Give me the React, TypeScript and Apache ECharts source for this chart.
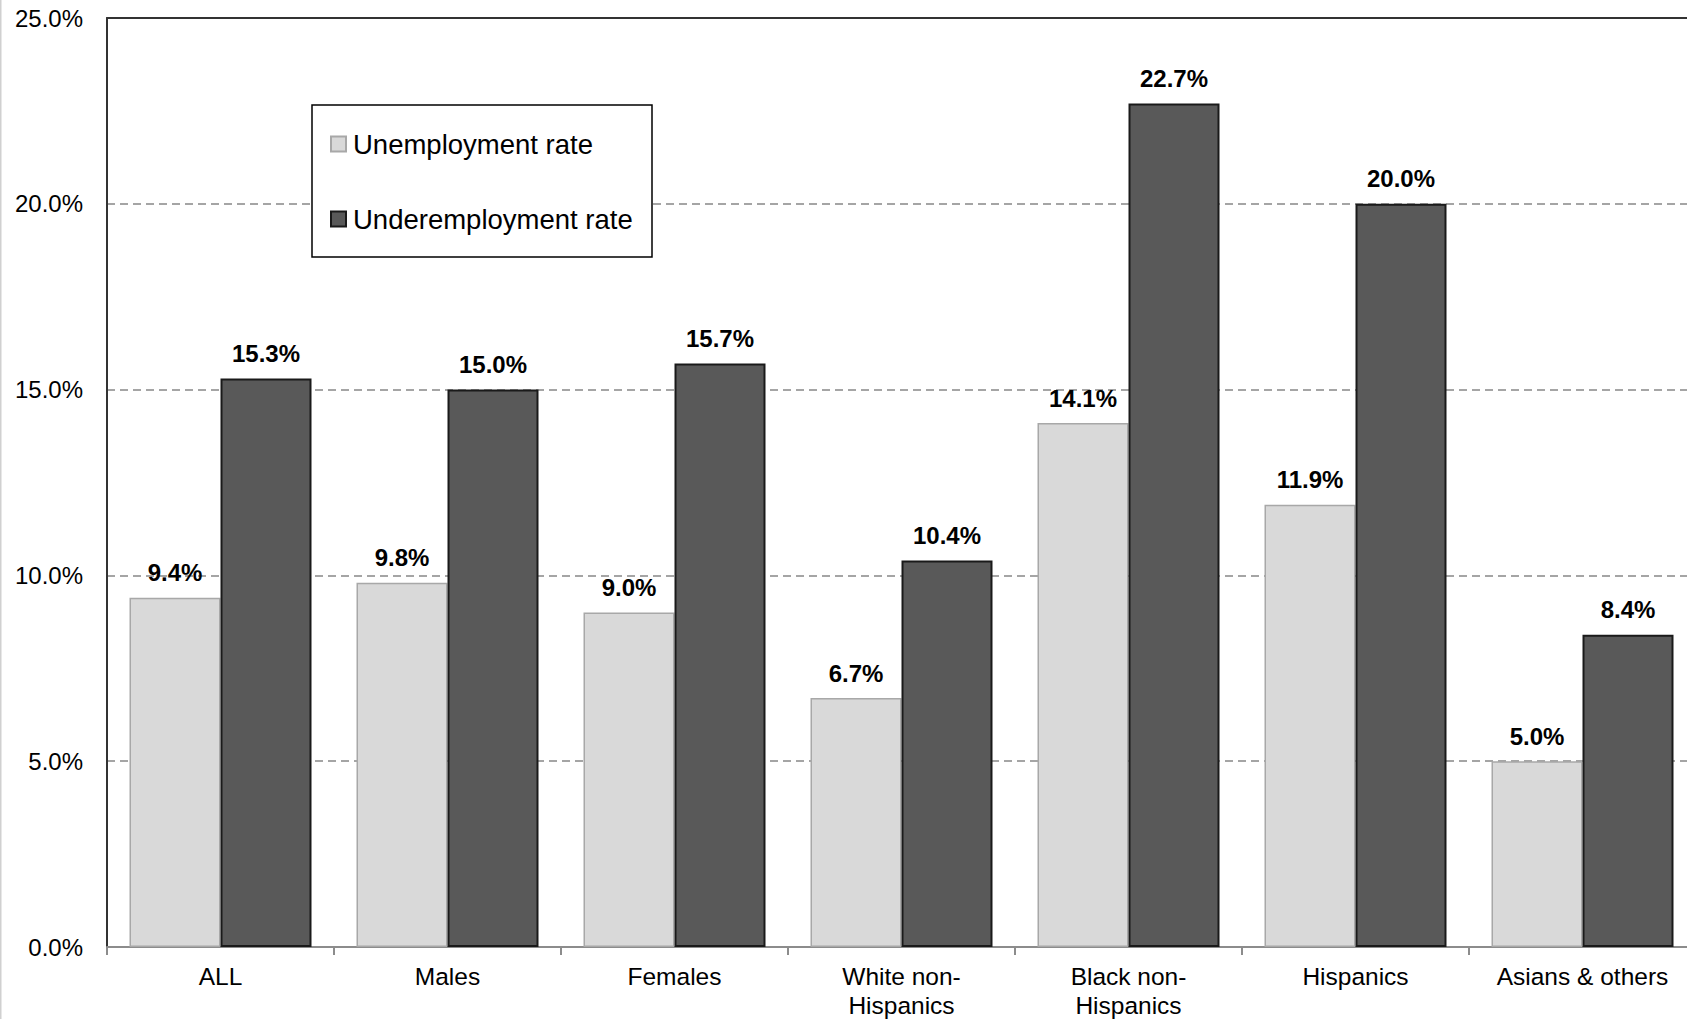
import React, { useEffect, useRef } from "react";
import * as echarts from "echarts";

const categories = [
  "ALL",
  "Males",
  "Females",
  "White non-\nHispanics",
  "Black non-\nHispanics",
  "Hispanics",
  "Asians & others",
];
const unemploymentRate = [9.4, 9.8, 9.0, 6.7, 14.1, 11.9, 5.0];
const underemploymentRate = [15.3, 15.0, 15.7, 10.4, 22.7, 20.0, 8.4];
const seriesNames = ["Unemployment rate", "Underemployment rate"];

const FONT = '"Liberation Sans", Arial, sans-serif';

export default function App() {
  const ref = useRef<HTMLDivElement>(null);
  useEffect(() => {
    if (!ref.current) return;
    const chart = echarts.init(ref.current, null, { renderer: "svg" });
    const pct = (v: number) => `${v.toFixed(1)}%`;
    const labelCfg = {
      show: true,
      position: "top",
      distance: 13,
      fontFamily: FONT,
      fontSize: 24,
      fontWeight: "bold",
      color: "#000",
      formatter: (p: any) => pct(p.value),
    };
    chart.setOption({
      animation: false,
      backgroundColor: "#fff",
      textStyle: { fontFamily: FONT },
      grid: {
        left: 107,
        width: 1589,
        top: 18,
        bottom: 72,
        containLabel: false,
        outerBoundsMode: "none",
      },
      legend: [
        {
          data: [seriesNames[0]],
          left: 330,
          top: 130,
          orient: "vertical",
          icon: "rect",
          itemWidth: 15,
          itemHeight: 15,
          padding: 0,
          z: 10,
          textStyle: { fontFamily: FONT, fontSize: 27.5, color: "#000", padding: [0, 0, 0, 2] },
        },
        {
          data: [seriesNames[1]],
          left: 330,
          top: 205,
          orient: "vertical",
          icon: "rect",
          itemWidth: 15,
          itemHeight: 15,
          padding: 0,
          z: 10,
          textStyle: { fontFamily: FONT, fontSize: 27.5, color: "#000", padding: [0, 0, 0, 2] },
        },
      ],
      graphic: [
        {
          type: "rect",
          left: 0,
          top: 0,
          shape: { x: 0, y: 0, width: 1.5, height: 1019 },
          style: { fill: "#d0d0d0" },
          z: 1,
        },
        {
          type: "rect",
          shape: { x: 312, y: 105, width: 340, height: 152 },
          style: { fill: "#fff", stroke: "#000", lineWidth: 1.5 },
          z: 5,
        },
      ],
      xAxis: [
        {
          type: "category",
          data: categories,
          position: "bottom",
          axisLine: { show: true, lineStyle: { color: "#8c8c8c", width: 2 } },
          axisTick: { show: true, length: 8, alignWithLabel: false, lineStyle: { color: "#8c8c8c", width: 2 } },
          axisLabel: {
            interval: 0,
            fontFamily: FONT,
            fontSize: 24.5,
            color: "#000",
            margin: 15,
            lineHeight: 29,
          },
          splitLine: { show: false },
        },
        {
          type: "category",
          data: categories,
          position: "top",
          axisLine: { show: true, lineStyle: { color: "#333", width: 2 } },
          axisTick: { show: false },
          axisLabel: { show: false },
          splitLine: { show: false },
        },
      ],
      yAxis: {
        type: "value",
        min: 0,
        max: 25,
        interval: 5,
        axisLine: { show: true, lineStyle: { color: "#333", width: 2 } },
        axisTick: { show: false },
        axisLabel: {
          fontFamily: FONT,
          fontSize: 24,
          color: "#000",
          margin: 24,
          formatter: (v: number) => pct(v),
        },
        splitLine: {
          show: true,
          lineStyle: { color: "#888", width: 1.5, type: [8, 5] },
        },
      },
      series: [
        {
          name: seriesNames[0],
          type: "bar",
          data: unemploymentRate,
          barWidth: 91,
          barGap: "0%",
          itemStyle: { color: "#d9d9d9", borderColor: "#a8a8a8", borderWidth: 1.5 },
          label: labelCfg,
          z: 2,
        },
        {
          name: seriesNames[1],
          type: "bar",
          data: underemploymentRate,
          barWidth: 91,
          barGap: "0%",
          itemStyle: { color: "#595959", borderColor: "#1a1a1a", borderWidth: 2 },
          label: labelCfg,
          z: 2,
        },
      ],
    });
    return () => chart.dispose();
  }, []);
  return (
    <div
      ref={ref}
      style={{ position: "fixed", left: 0, top: 0, width: 1687, height: 1019, background: "#fff" }}
    />
  );
}
